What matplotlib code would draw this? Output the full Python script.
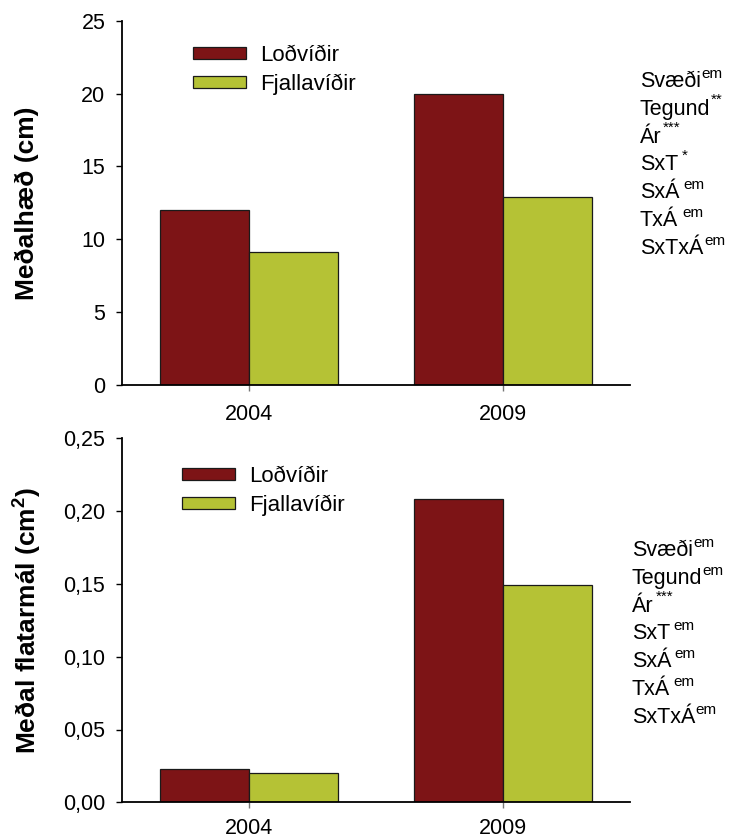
import matplotlib
matplotlib.use("Agg")
import matplotlib.pyplot as plt
import numpy as np
from matplotlib.ticker import FuncFormatter

YEARS = ["2004", "2009"]
SPECIES = ["Loðvíðir", "Fjallavíðir"]
HEIGHT_LOD = [12.0, 20.0]
HEIGHT_FJA = [9.1, 12.9]
AREA_LOD = [0.023, 0.208]
AREA_FJA = [0.020, 0.149]

# ANOVA terms and their significance marks
HEIGHT_TERMS = ["Svæði", "Tegund", "Ár", "SxT", "SxÁ", "TxÁ", "SxTxÁ"]
HEIGHT_SIG = ["em", "**", "***", "*", "em", "em", "em"]
AREA_TERMS = ["Svæði", "Tegund", "Ár", "SxT", "SxÁ", "TxÁ", "SxTxÁ"]
AREA_SIG = ["em", "em", "***", "em", "em", "em", "em"]

COL_LOD = "#7d1416"
COL_FJA = "#b5c235"
FS = 15.5

plt.rcParams["font.family"] = ["Liberation Sans", "DejaVu Sans"]
plt.rcParams["mathtext.fontset"] = "custom"
plt.rcParams["mathtext.rm"] = "Liberation Sans"
plt.rcParams["mathtext.bf"] = "Liberation Sans:bold"

W, H = 733, 840
fig = plt.figure(figsize=(W / 100, H / 100), dpi=100)


def px_axes(left, top, right, bottom):
    return fig.add_axes([left / W, 1 - bottom / H, (right - left) / W, (bottom - top) / H])


def draw_panel(ax, lod, fja, ymax, step, fmt, xpad):
    x = np.arange(len(YEARS))
    w = 0.35
    ax.bar(x - w / 2, lod, w, color=COL_LOD, edgecolor="#1a1a1a", lw=0.9, label=SPECIES[0])
    ax.bar(x + w / 2, fja, w, color=COL_FJA, edgecolor="#1a1a1a", lw=0.9, label=SPECIES[1])
    ax.set_xlim(-0.5, 1.5)
    ax.set_ylim(0, ymax)
    ax.set_yticks(np.arange(0, ymax + step / 2, step))
    ax.yaxis.set_major_formatter(FuncFormatter(fmt))
    ax.set_xticks(x)
    ax.set_xticklabels(YEARS)
    for s in ("top", "right"):
        ax.spines[s].set_visible(False)
    for s in ("left", "bottom"):
        ax.spines[s].set_linewidth(1.3)
    ax.tick_params(axis="y", length=4, width=1.0, pad=8, labelsize=FS)
    ax.tick_params(axis="x", length=4, width=1.0, color="#777777", pad=xpad, labelsize=FS)


ax1 = px_axes(122, 20.7, 630, 385)
draw_panel(ax1, HEIGHT_LOD, HEIGHT_FJA, 25, 5, lambda v, p: f"{v:.0f}", 10)
ax2 = px_axes(122, 438.3, 630, 802.3)
draw_panel(ax2, AREA_LOD, AREA_FJA, 0.25, 0.05, lambda v, p: f"{v:.2f}".replace(".", ","), 7.5)

fig.text(27 / W, 1 - 203 / H, "Meðalhæð (cm)", rotation=90, ha="center", va="center",
         fontsize=19, fontweight="bold")
fig.text(27 / W, 1 - 620 / H, r"Meðal flatarmál (cm$^{\mathbf{2}}$)", rotation=90,
         ha="center", va="center", fontsize=19, fontweight="bold")

for ax, lx, ly in ((ax1, 193, 70), (ax2, 182, 491)):
    ax.legend(loc="center left", bbox_to_anchor=(lx / W, 1 - ly / H),
              bbox_transform=fig.transFigure, frameon=False, fontsize=16,
              handlelength=2.4, handleheight=0.45, handletextpad=0.6,
              labelspacing=0.32, borderpad=0, borderaxespad=0)

renderer = fig.canvas.get_renderer()


def term_list(x0, y0, terms, sigs, gaps, dy=27.8):
    # term in normal size, significance mark as a small raised label after it
    for i, (t, s, g) in enumerate(zip(terms, sigs, gaps)):
        yb = y0 + i * dy
        txt = fig.text(x0 / W, 1 - yb / H, t, fontsize=FS, ha="left", va="baseline")
        x1 = txt.get_window_extent(renderer).x1
        if s == "em":
            rise, size = 9, 11
        else:
            rise, size = 11, 11
        fig.text((x1 + g) / W, 1 - (yb - rise) / H, s, fontsize=size,
                 ha="left", va="baseline")


term_list(640, 87, HEIGHT_TERMS, HEIGHT_SIG, [0, 0, 1, 4, 4, 4, 1])
term_list(632, 556, AREA_TERMS, AREA_SIG, [0, 0, 2, 3, 3, 3, 0])

fig.savefig("out.png", dpi=100)
